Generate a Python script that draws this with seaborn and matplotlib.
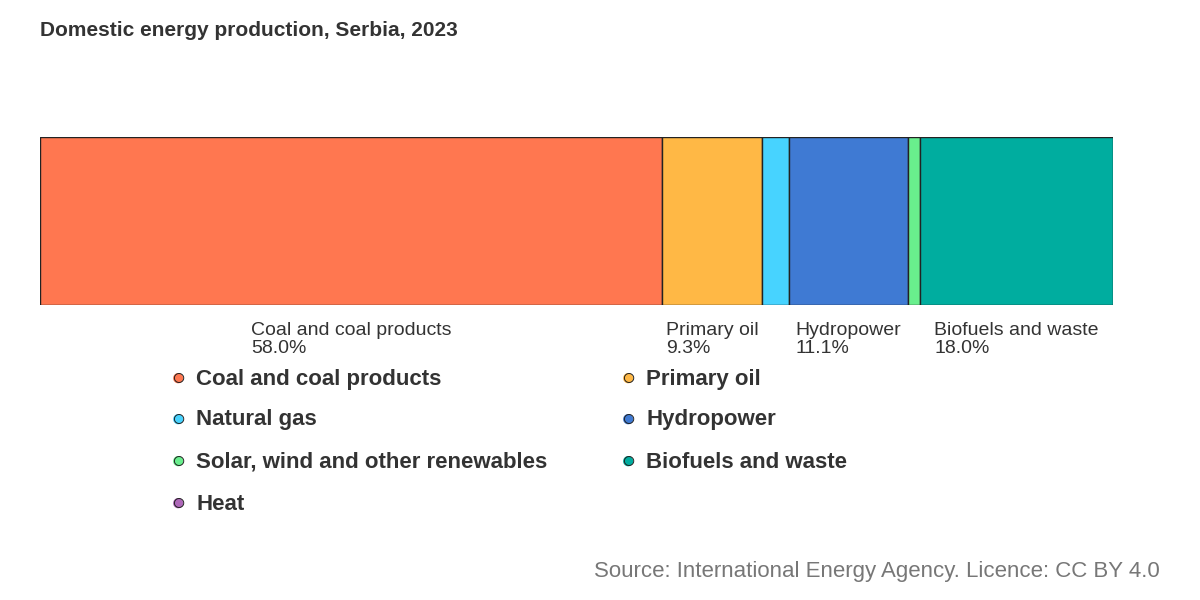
import matplotlib
matplotlib.use('Agg')
import matplotlib.pyplot as plt
import seaborn as sns
import pandas as pd

sources = ['Coal and coal products', 'Primary oil', 'Natural gas', 'Hydropower',
           'Solar, wind and other renewables', 'Biofuels and waste', 'Heat']
shares = [58.0, 9.3, 2.5, 11.1, 1.1, 18.0, 0.0]
colors = ['#ff7750', '#ffb845', '#47d3ff', '#3f7ad3', '#69ef8d', '#00ad9f', '#ae67b9']

sns.set_theme(style='white')
plt.rcParams['font.family'] = ['Liberation Sans', 'DejaVu Sans']

df = pd.DataFrame({'source': sources, 'share': shares})
df['left'] = df['share'].cumsum() - df['share']

fig = plt.figure(figsize=(12, 6), dpi=100)
ax = fig.add_axes([40 / 1200, 1 - 305 / 600, 1073 / 1200, 168 / 600])
for i, row in df.iterrows():
    if row['share'] <= 0:
        continue
    ax.barh(0, row['share'], left=row['left'], height=1, color=colors[i],
            edgecolor='#222222', linewidth=1)
ax.set_xlim(0, df['share'].sum())
ax.set_ylim(-0.5, 0.5)
ax.axis('off')

for i, row in df.iterrows():
    if row['share'] < 5:
        continue
    ax.text(row['left'] + row['share'] / 2, -0.6, f"{row['source']}\n{row['share']:.1f}%",
            ha='center', va='top', multialignment='left', fontsize=14, color='#333333',
            linespacing=1.1)

fig.text(40 / 1200, 1 - 30 / 600, 'Domestic energy production, Serbia, 2023',
         fontsize=15, fontweight='bold', color='#333333', va='center')

# legend
pos = [(178, 379), (628, 379), (178, 420), (628, 420), (178, 462), (628, 462), (178, 504)]
order = [0, 1, 2, 3, 4, 5, 6]
for (x, y), i in zip(pos, order):
    fig.text(x / 1200, 1 - y / 600, '●', color=colors[i], fontsize=17, ha='center', va='center')
    fig.text(x / 1200, 1 - y / 600, '○', color='#222222', fontsize=17, ha='center', va='center')
    fig.text((x + 18) / 1200, 1 - y / 600, sources[i], fontsize=16, fontweight='bold',
             color='#333333', va='center')

fig.text(1160 / 1200, 1 - 572 / 600, 'Source: International Energy Agency. Licence: CC BY 4.0',
         fontsize=16, color='#777777', ha='right', va='center')

fig.savefig('out.png', dpi=100, facecolor='white')
